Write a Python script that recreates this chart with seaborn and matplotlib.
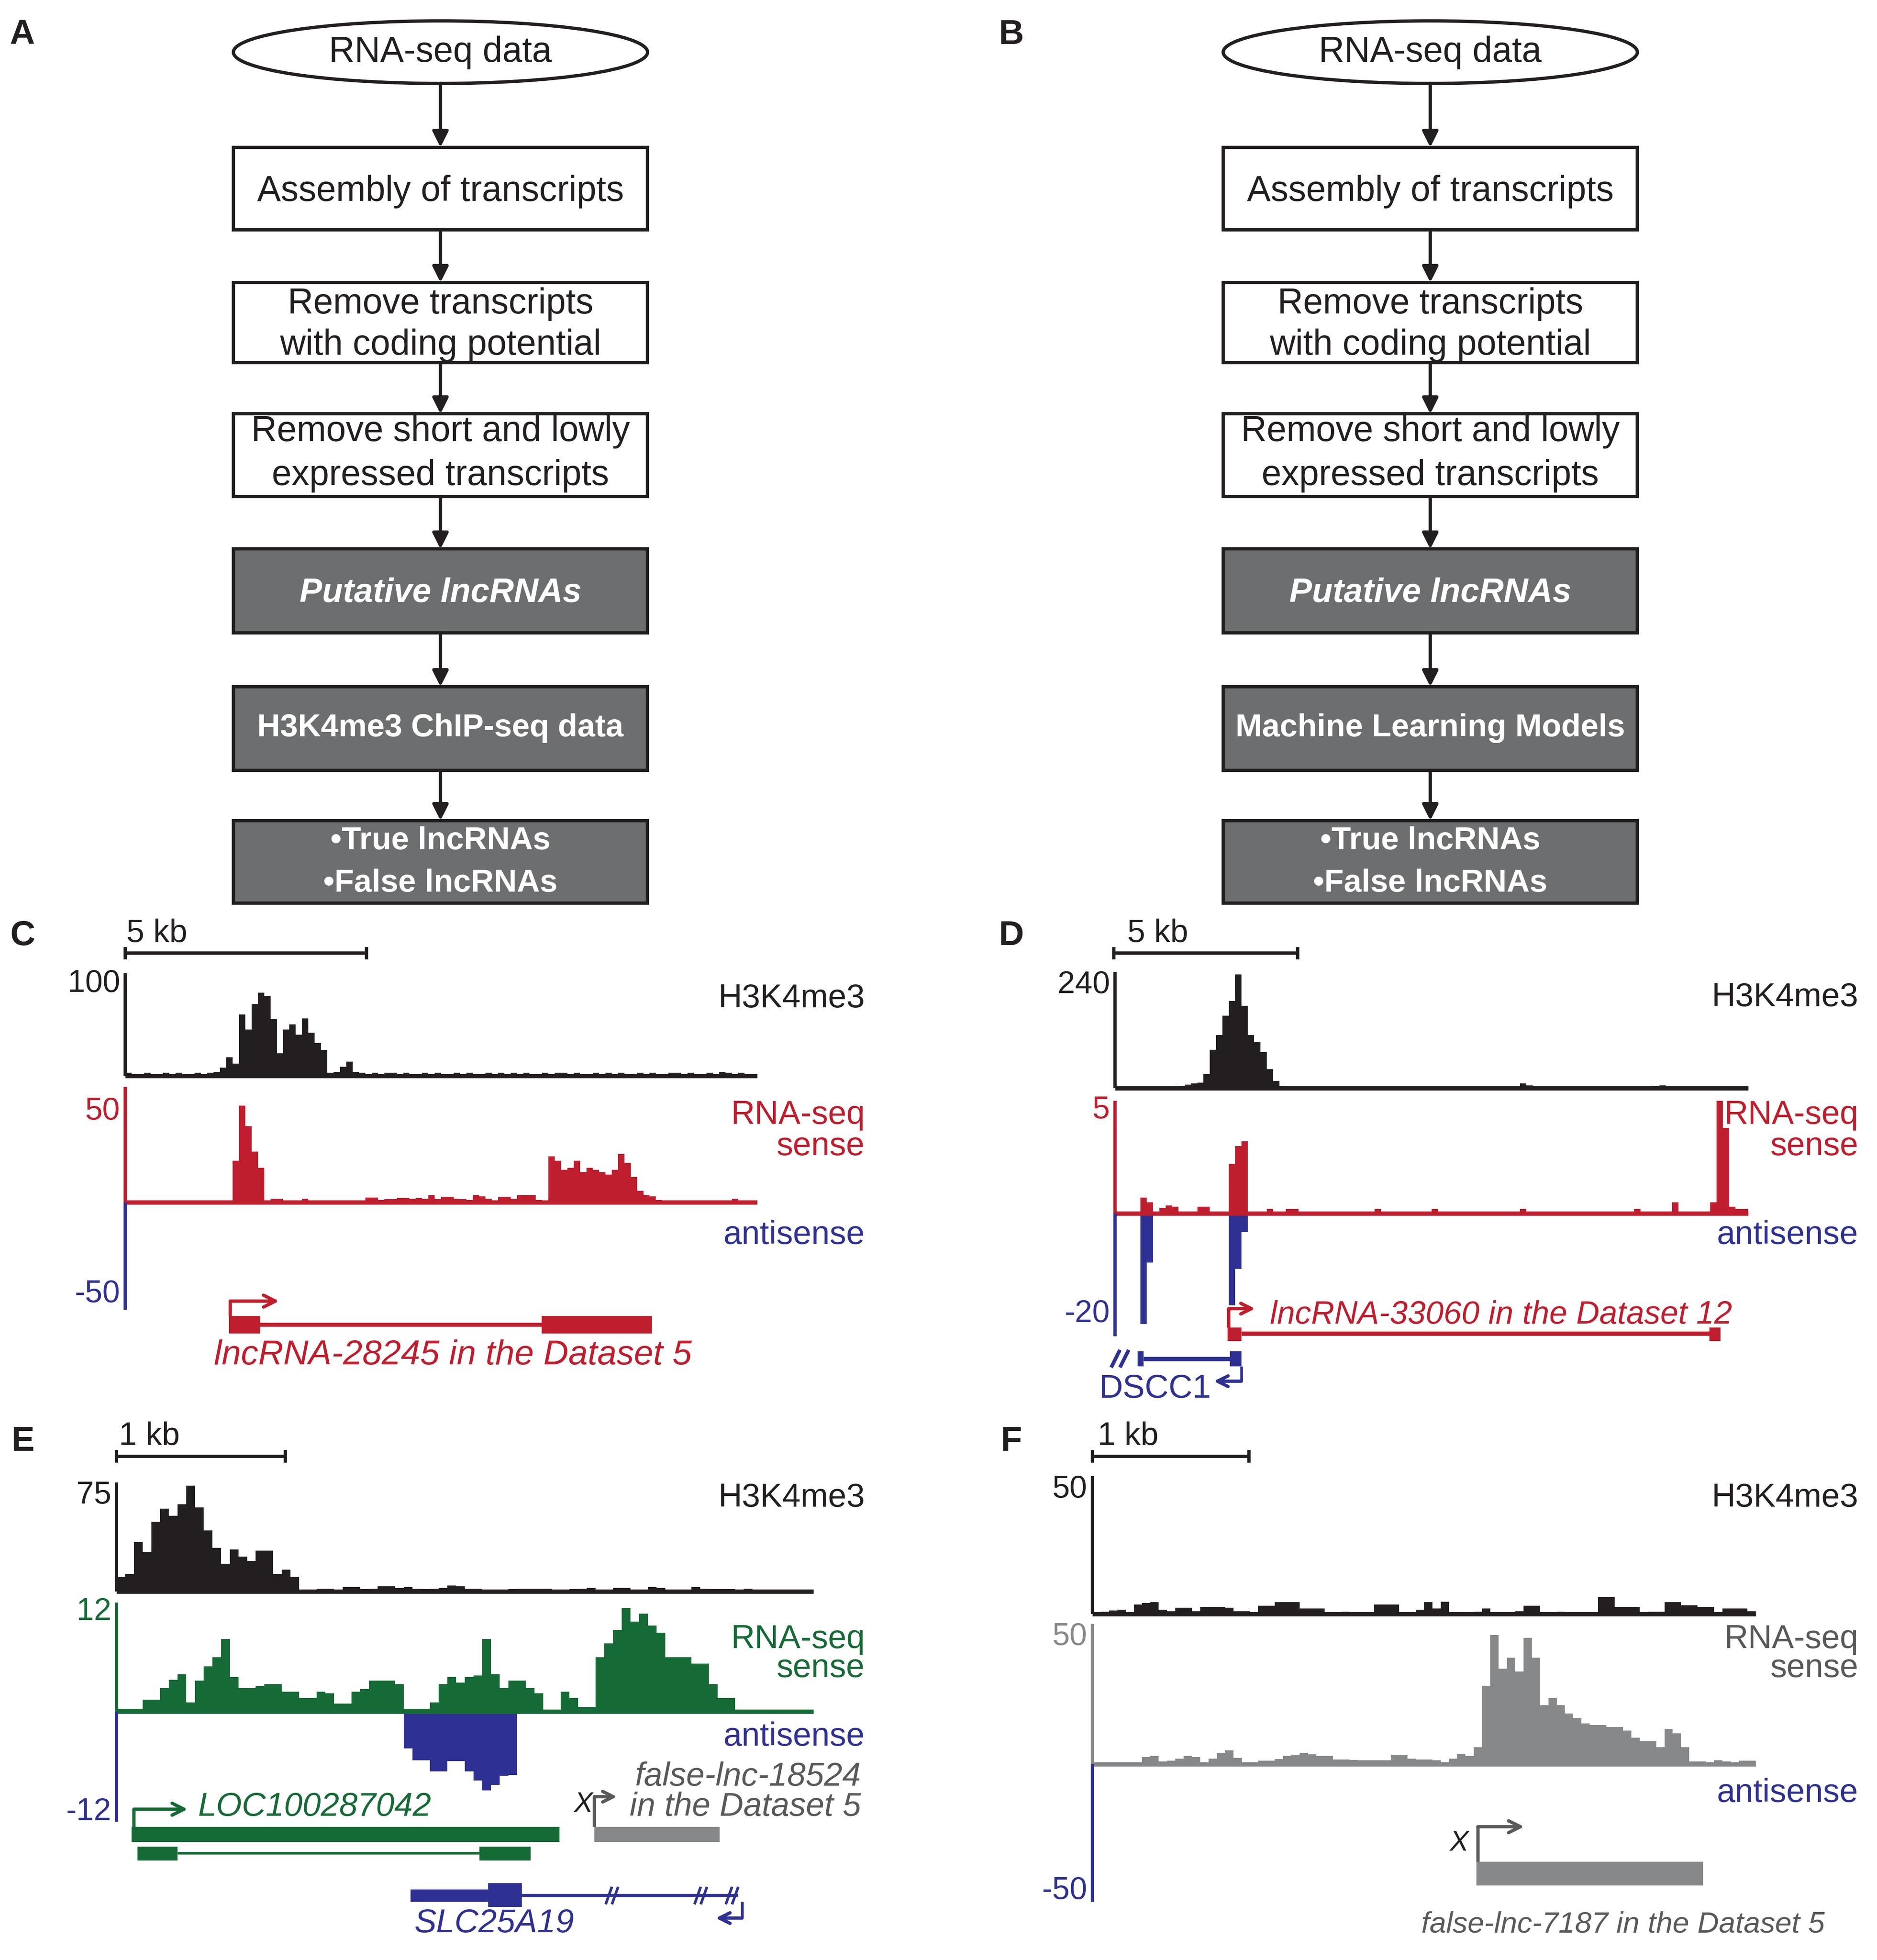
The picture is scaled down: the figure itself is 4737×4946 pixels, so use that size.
import numpy as np
import matplotlib
matplotlib.use("Agg")
import matplotlib.pyplot as plt
import matplotlib.patches as mpatches
import seaborn as sns

# ---- flowchart text ----
flow_top = "RNA-seq data"
flow_white = [["Assembly of transcripts"],
              ["Remove transcripts", "with coding potential"],
              ["Remove short and lowly", "expressed transcripts"]]
flow_gray_a = [["Putative lncRNAs"], ["H3K4me3 ChIP-seq data"],
               ["\u2022True lncRNAs", "\u2022False lncRNAs"]]
flow_gray_b = [["Putative lncRNAs"], ["Machine Learning Models"],
               ["\u2022True lncRNAs", "\u2022False lncRNAs"]]

# ---- track values ----
c_h3k4me3 = [3, 2, 2, 3, 2, 2, 3, 2, 3, 2, 2, 3, 2, 3, 4, 8, 18, 12, 60, 45,
             70, 81, 78, 55, 22, 45, 50, 40, 56, 42, 32, 25, 3, 4, 9, 14, 4, 3, 2, 3,
             2, 3, 3, 2, 3, 2, 2, 3, 2, 3, 2, 2, 3, 2, 3, 2, 2, 3, 2, 3,
             2, 3, 2, 3, 2, 2, 3, 2, 3, 3, 2, 3, 2, 2, 3, 2, 3, 2, 3, 2,
             2, 3, 2, 3, 2, 2, 3, 3, 2, 3, 2, 2, 3, 2, 4, 3, 2, 3, 2, 2]
c_sense = [0, 0, 0, 0, 0, 0, 0, 0, 0, 0, 0, 0, 0, 0, 0, 0, 0, 18, 42, 33,
           22, 15, 0, 1.5, 1.5, 0.5, 0.5, 0.5, 1.5, 0.5, 0.5, 0.3, 0.3, 0.3, 0.3, 0.3, 0.3, 0.3, 2, 2,
           1, 1.3, 1.3, 1.8, 1.8, 1.5, 1.8, 1.5, 3, 1.3, 2.3, 2.3, 1.5, 1.3, 1, 3, 2.5, 1.5, 0.8, 2.3,
           2.3, 1.5, 3, 3, 3, 1, 0.5, 20, 18, 14, 15, 18, 13, 15, 14, 13, 12, 14, 21, 17,
           11, 5, 3, 2.5, 1, 0.3, 0.3, 0.3, 0.3, 0.3, 0.3, 0.3, 0.3, 0.3, 0.3, 0.3, 1.5, 0.3, 0.3, 0.3]

d_h3k4me3 = [0, 0, 0, 0, 0, 0, 0, 0, 0, 0, 5, 8, 10, 12, 30, 80, 110, 150, 180, 235,
             170, 110, 95, 75, 40, 15, 5, 0, 0, 0, 0, 0, 0, 0, 0, 0, 0, 0, 0, 0,
             0, 0, 0, 0, 0, 0, 0, 0, 0, 0, 0, 0, 0, 0, 0, 0, 0, 0, 0, 0,
             0, 0, 0, 0, 10, 6, 2, 0, 0, 0, 0, 0, 0, 0, 0, 0, 0, 0, 0, 0,
             0, 0, 0, 0, 3, 5, 6, 4, 1, 0, 0, 0, 0, 0, 0, 0, 0, 0, 0, 0]
d_sense = [0, 0, 0, 0.1, 0.7, 0.5, 0, 0.25, 0.35, 0.3, 0.1, 0, 0, 0.3, 0.3, 0, 0, 0, 2.2, 3.0,
           3.2, 0, 0, 0, 0.2, 0, 0, 0.2, 0.2, 0, 0, 0, 0, 0, 0, 0, 0, 0, 0, 0,
           0, 0.2, 0, 0, 0, 0, 0, 0, 0, 0, 0.2, 0, 0, 0, 0, 0, 0, 0, 0, 0,
           0, 0, 0, 0, 0.2, 0, 0, 0, 0, 0, 0, 0, 0, 0, 0, 0, 0, 0, 0, 0,
           0, 0, 0.2, 0, 0, 0, 0, 0, 0.5, 0, 0, 0, 0, 0, 0.5, 5.0, 3.8, 0.3, 0.2, 0.2]
d_antisense = [0, 0, 0, 0, 18, 8, 0, 0, 0, 0, 0, 0, 0, 0, 0, 0, 0, 0, 15, 9,
               3, 0, 0, 0, 0, 0, 0, 0, 0, 0, 0, 0, 0, 0, 0, 0, 0, 0, 0, 0,
               0, 0, 0, 0, 0, 0, 0, 0, 0, 0, 0, 0, 0, 0, 0, 0, 0, 0, 0, 0,
               0, 0, 0, 0, 0, 0, 0, 0, 0, 0, 0, 0, 0, 0, 0, 0, 0, 0, 0, 0,
               0, 0, 0, 0, 0, 0, 0, 0, 0, 0, 0, 0, 0, 0, 0, 0, 0, 0, 0, 0]

e_h3k4me3 = [10, 12, 34, 27, 48, 57, 52, 60, 73, 58, 42, 30, 19, 29, 24, 21, 28, 28, 12, 15,
             10, 1, 1, 2, 2, 1, 3, 3, 1.5, 2, 3.5, 3.5, 2.5, 3, 2, 1.5, 2, 2.5, 4, 3.5,
             2, 2, 1, 0.5, 1, 1.5, 2, 2, 2, 2, 1, 1, 1.5, 2, 2.5, 1, 1, 2.5, 2.5, 1,
             1, 3, 2.5, 1, 1, 1, 3, 2, 1.5, 1.5, 1.5, 1, 2, 0.5, 0.5, 0.5, 0.5, 0.5, 0.5, 0.5]
e_sense = [0.3, 0.3, 0.3, 1.3, 1.3, 2.6, 3.5, 4.1, 1.0, 3.4, 5, 6, 8, 3.8, 2.6, 2.6, 2.8, 3, 3, 2.2,
           2.2, 1.5, 1.5, 2.2, 2, 0.9, 0.9, 2.2, 2.5, 3.4, 3.4, 3.4, 3, 0.3, 0.3, 0.3, 1, 3, 3.8, 3.2,
           3.8, 4, 8, 4.1, 2.6, 3.4, 3.4, 2.6, 2, 0.1, 0.1, 2.2, 1.5, 0.5, 0.5, 6, 7.5, 9, 11.4, 9.9,
           10.8, 9.5, 8.7, 6, 6, 6, 5.3, 5.3, 3, 1.5, 1.5, 0, 0, 0, 0, 0, 0, 0, 0, 0]
e_antisense = [0, 0, 0, 0, 0, 0, 0, 0, 0, 0, 0, 0, 0, 0, 0, 0, 0, 0, 0, 0,
               0, 0, 0, 0, 0, 0, 0, 0, 0, 0, 0, 0, 0, 4, 5.3, 5.3, 6.5, 6.5, 5.4, 5.4,
               6.5, 7.5, 8.6, 8, 7, 6.9, 0, 0, 0, 0, 0, 0, 0, 0, 0, 0, 0, 0, 0, 0,
               0, 0, 0, 0, 0, 0, 0, 0, 0, 0, 0, 0, 0, 0, 0, 0, 0, 0, 0, 0]

f_h3k4me3 = [0.3, 0.8, 1.2, 1.5, 0.5, 3.5, 4, 4.3, 1.5, 1, 2.3, 2.3, 1, 2.6, 2.6, 2.6, 2.3, 1, 1, 0.5,
             3, 3, 4.3, 4.3, 4.3, 2, 2, 2, 0.3, 0.3, 0.8, 0.3, 0.3, 0.3, 3.4, 3.4, 3.4, 0.5, 0.5, 1.5,
             4.3, 2, 4.4, 0.5, 0.3, 0.3, 0.8, 2, 0.5, 0.5, 0.5, 1, 3, 3, 0.5, 0.5, 0.8, 0.5, 0.3, 0.3,
             0.3, 6.2, 6.2, 2.6, 2.6, 2.6, 0.5, 0.8, 0.8, 4.3, 4.3, 3.2, 3.2, 2.6, 2.6, 0.5, 2, 2, 2, 1]
f_sense = [0.4, 0.4, 0.4, 0.4, 0.4, 0.4, 2.5, 3, 1, 1.3, 2, 3, 2.5, 0.5, 2, 4, 4.9, 2.3, 0.4, 0.6,
           1.3, 1.3, 1.8, 3, 3.3, 3.9, 3.5, 3, 3, 1.7, 1.7, 1.5, 1.4, 1.4, 1.4, 1.4, 3.4, 3.4, 2, 1.7,
           1.7, 1.4, 0.5, 2, 3.6, 3, 6, 28, 46, 34, 38, 33, 45, 38, 21, 23.6, 21, 18, 16.5, 14.5,
           14, 14, 13.3, 13.3, 12, 9.4, 8.1, 8.1, 6, 12.6, 11, 6, 1, 1, 0.5, 1.4, 1, 0.3, 1.3, 1.3]

# axis maxima for each panel: (H3K4me3, sense, antisense)
c_max = (100, 50, 50)
d_max = (240, 5, 20)
e_max = (75, 12, 12)
f_max = (50, 50, 50)

RED = "#be1e2d"
BLUE = "#2e3192"
GREEN = "#166a35"
GRAYT = "#87888a"
DGRAY = "#58595b"
BOXG = "#6d6e70"
BLACK = "#231f20"

sns.set_theme(style="white")
plt.rcParams['font.family'] = ['Liberation Sans', 'DejaVu Sans']

W_PX, H_PX = 4737, 4947
S = W_PX / 1500.0
W = 1500.0
H = H_PX / S

fig = plt.figure(figsize=(W_PX / 300, H_PX / 300), dpi=300)
fig.patch.set_facecolor("white")

ax0 = fig.add_axes([0, 0, 1, 1])
ax0.set_xlim(0, W)
ax0.set_ylim(H, 0)
ax0.axis("off")
ax0.set_zorder(10)
ax0.patch.set_visible(False)

LW = 2.0


def txt(x, y, s, size=20, color=BLACK, ha="center", **kw):
    ax0.text(x, y, s, fontsize=size, color=color, ha=ha, va="center", **kw)


def line(xs, ys, color=BLACK, lw=LW):
    ax0.plot(xs, ys, color=color, lw=lw, solid_capstyle="butt")


def arrow(x0, y0, x1, y1, color=BLACK, style="-|>", lw=LW, ms=22):
    ax0.annotate("", xy=(x1, y1), xytext=(x0, y0),
                 arrowprops=dict(arrowstyle=style, color=color, lw=lw,
                                 mutation_scale=ms, shrinkA=0, shrinkB=0))


def rect(x0, y0, x1, y1, color):
    ax0.add_patch(mpatches.Rectangle((x0, y0), x1 - x0, y1 - y0, facecolor=color,
                                     edgecolor="none"))


# ---- flowcharts ----
box_y = [(118, 184), (226, 290), (331, 397), (439, 506), (549, 616), (656, 722)]
line_y = [[153], [243, 276], [345, 380], [474], [582], [672, 706]]


def flowchart(cx, gray_steps):
    x0, x1 = cx - 165.5, cx + 165.5
    ax0.add_patch(mpatches.Ellipse((cx, 42), 331, 50, facecolor="white",
                                   edgecolor=BLACK, lw=LW))
    txt(cx, 42, flow_top, size=21.5)
    prev = 67
    steps = flow_white + gray_steps
    for k, ((ya, yb), lines, ys) in enumerate(zip(box_y, steps, line_y)):
        arrow(cx, prev, cx, ya, ms=20)
        gray = k >= 3
        ax0.add_patch(mpatches.Rectangle((x0, ya), x1 - x0, yb - ya,
                                         facecolor=BOXG if gray else "white",
                                         edgecolor=BLACK, lw=LW))
        for s, y in zip(lines, ys):
            if gray:
                if s.startswith("Putative"):
                    txt(cx, y, s, size=20.5, color="white", weight="bold", style="italic")
                else:
                    txt(cx, y, s, size=19.3, color="white", weight="bold")
            else:
                txt(cx, y, s, size=21.5)
        prev = yb


flowchart(352, flow_gray_a)
flowchart(1143, flow_gray_b)

for lab, x, y in [("A", 18, 28), ("B", 808, 28), ("C", 18, 748), ("D", 808, 748),
                  ("E", 18, 1152), ("F", 808, 1152)]:
    txt(x, y, lab, size=21, weight="bold")


# ---- signal tracks ----
def track(vals, x0, x1, ytop, ybot, vmax, color, down=False):
    ax = fig.add_axes([x0 / W, 1 - ybot / H, (x1 - x0) / W, (ybot - ytop) / H])
    n = len(vals)
    pos = np.arange(n) + 0.5
    sns.histplot(x=pos, weights=vals, bins=n, binrange=(0, n), element="step",
                 fill=True, color=color, alpha=1, linewidth=0, ax=ax)
    ax.set_xlim(0, n)
    if down:
        ax.set_ylim(vmax, 0)
    else:
        ax.set_ylim(0, vmax)
    ax.axis("off")
    ax.patch.set_visible(False)


def panel(x0, x1, h3, rna, vals, vmax, scol, ticks, tick_y, scale):
    (h_top, h_base), (r_top, r_base, r_bot) = h3, rna
    h3v, sv, av = vals
    track(h3v, x0, x1, h_top, h_base, vmax[0], BLACK)
    track(sv, x0, x1, r_top, r_base, vmax[1], scol)
    if av is not None:
        track(av, x0, x1, r_base, r_bot, vmax[2], BLUE, down=True)
    line([x0, x0], [h_top, h_base], BLACK)
    line([x0, x1], [h_base, h_base], BLACK, lw=2.6)
    line([x0, x0], [r_top, r_base], scol)
    line([x0, x1], [r_base, r_base], scol, lw=2.6)
    line([x0, x0], [r_base, r_bot], BLUE)
    t1, t2, t3 = ticks
    y1, y2, y3 = tick_y
    txt(x0 - 4, y1, t1, size=19, ha="right")
    txt(x0 - 4, y2, t2, size=19, color=scol, ha="right")
    txt(x0 - 4, y3, t3, size=19, color=BLUE, ha="right")
    # scale bar
    sx0, sx1, sy, sl, lx = scale
    line([sx0, sx1], [sy, sy], BLACK)
    line([sx0, sx0], [sy - 5, sy + 5], BLACK)
    line([sx1, sx1], [sy - 5, sy + 5], BLACK)
    txt(lx, sy - 16, sl, size=19.5, ha="left")


panel(100, 605, (778, 860), (869, 961, 1047), (c_h3k4me3, c_sense, None), c_max, RED,
      ("100", "50", "-50"), (786, 888, 1034), (100, 293, 762, "5 kb", 101))
panel(891, 1397, (777, 870), (880, 970, 1068), (d_h3k4me3, d_sense, d_antisense), d_max, RED,
      ("240", "5", "-20"), (787, 887, 1050), (890, 1037, 762, "5 kb", 901))
panel(93, 650, (1185, 1272), (1281, 1368, 1456), (e_h3k4me3, e_sense, e_antisense), e_max, GREEN,
      ("75", "12", "-12"), (1195, 1288, 1448), (93, 228, 1164, "1 kb", 95))
panel(873, 1403, (1180, 1290), (1298, 1410, 1520), (f_h3k4me3, f_sense, None), f_max, GRAYT,
      ("50", "50", "-50"), (1190, 1308, 1511), (873, 998, 1164, "1 kb", 877))

# track labels
for rx, ys, col in [(691, (798, 891, 916, 987), RED), (1485, (797, 891, 916, 987), RED),
                    (691, (1197, 1310, 1333, 1388), GREEN), (1485, (1197, 1310, 1333, 1433), DGRAY)]:
    txt(rx, ys[0], "H3K4me3", size=20, ha="right")
    txt(rx, ys[1], "RNA-seq", size=20, color=col, ha="right")
    txt(rx, ys[2], "sense", size=20, color=col, ha="right")
    txt(rx, ys[3], "antisense", size=20, color=BLUE, ha="right")

# ---- gene models ----
# C
line([184, 184], [1052, 1040], RED)
arrow(184, 1040, 223, 1040, RED, style="->", ms=18)
rect(183, 1052, 208, 1066, RED)
line([208, 433], [1059, 1059], RED, lw=2.4)
rect(433, 1052, 521, 1066, RED)
txt(362, 1083, "lncRNA-28245 in the Dataset 5", size=21, color=RED, style="italic")

# D
line([982, 982], [1061, 1046], RED)
arrow(982, 1046, 1003, 1046, RED, style="->", ms=16)
rect(981, 1061, 992, 1072, RED)
line([992, 1366], [1066, 1066], RED, lw=2.6)
rect(1366, 1061, 1375, 1072, RED)
txt(1015, 1051, "lncRNA-33060 in the Dataset 12", size=19.5, color=RED, style="italic", ha="left")
for hx in (888, 895):
    line([hx, hx + 7], [1093, 1079], BLUE, lw=2.2)
rect(909, 1080, 914, 1092, BLUE)
line([914, 984], [1086, 1086], BLUE, lw=2.6)
rect(983, 1080, 992, 1092, BLUE)
line([992, 992], [1092, 1104], BLUE, lw=1.6)
arrow(992, 1104, 970, 1104, BLUE, style="->", ms=16)
txt(923, 1110, "DSCC1", size=20, color=BLUE)

# E
line([107, 107], [1460, 1446], GREEN)
arrow(107, 1446, 150, 1446, GREEN, style="->", ms=18)
txt(158, 1444, "LOC100287042", size=20, color=GREEN, style="italic", ha="left")
rect(105, 1460, 447, 1472, GREEN)
rect(110, 1476, 142, 1487, GREEN)
line([142, 383], [1481, 1481], GREEN, lw=1.6)
rect(383, 1476, 424, 1487, GREEN)
txt(466, 1442, "X", size=17, color=BLACK, style="italic")
line([475, 475], [1460, 1436], DGRAY)
arrow(475, 1436, 493, 1436, DGRAY, style="->", ms=16)
rect(475, 1460, 575, 1472, GRAYT)
txt(688, 1420, "false-lnc-18524", size=20, color=DGRAY, style="italic", ha="right")
txt(688, 1444, "in the Dataset 5", size=20, color=DGRAY, style="italic", ha="right")
rect(328, 1510, 390, 1520, BLUE)
rect(390, 1505, 417, 1524, BLUE)
line([417, 590], [1515, 1515], BLUE, lw=1.8)
for hx in (484, 489, 555, 560, 580, 585):
    line([hx, hx + 5], [1522, 1508], BLUE, lw=1.6)
line([593, 593], [1520, 1533], BLUE, lw=1.6)
arrow(593, 1533, 572, 1533, BLUE, style="->", ms=16)
txt(395, 1537, "SLC25A19", size=20, color=BLUE, style="italic")

# F
txt(1166, 1473, "X", size=17, color=BLACK, style="italic")
line([1181, 1181], [1488, 1460], DGRAY)
arrow(1181, 1460, 1218, 1460, DGRAY, style="->", ms=18)
rect(1180, 1488, 1361, 1507, GRAYT)
txt(1297, 1538, "false-lnc-7187 in the Dataset 5", size=18, color=DGRAY, style="italic")

fig.savefig("out.png", dpi=300, facecolor="white")
